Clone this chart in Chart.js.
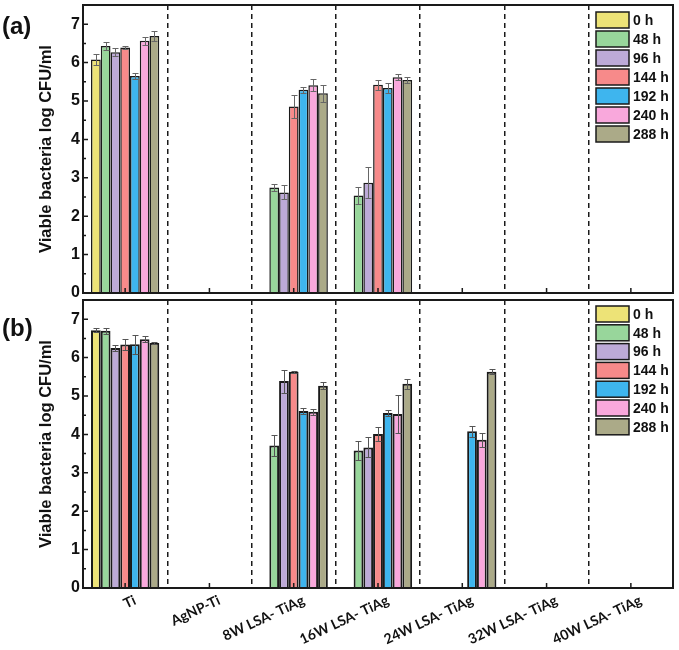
<!DOCTYPE html>
<html><head><meta charset="utf-8">
<script src="https://cdn.jsdelivr.net/npm/chart.js@4.4.0/dist/chart.umd.min.js"></script>
<style>
html,body{margin:0;padding:0;background:#fff;}
#wrap{position:relative;width:679px;height:650px;background:#fff;}
#ca{position:absolute;left:0;top:0;}
#cb{position:absolute;left:0;top:296px;}
</style></head><body>
<div id="wrap"><canvas id="ca" width="679" height="298"></canvas><canvas id="cb" width="679" height="354"></canvas></div>
<script>
const categories = ['Ti','AgNP-Ti','8W LSA- TiAg','16W LSA- TiAg','24W LSA- TiAg','32W LSA- TiAg','40W LSA- TiAg'];
const seriesLabels = ['0 h','48 h','96 h','144 h','192 h','240 h','288 h'];
const seriesColors = ['#EDE377','#98D69B','#BDAAD7','#F78A8A','#3EB5EE','#F9A8DC','#ABAA88'];
const yTicks = [0,1,2,3,4,5,6,7];

// Panel (a) values and errors
const a0h   = [6.08, null, null, null, null, null, null];
const a48h  = [6.43, null, 2.75, 2.54, null, null, null];
const a96h  = [6.27, null, 2.62, 2.87, null, null, null];
const a144h = [6.39, null, 4.86, 5.42, null, null, null];
const a192h = [5.65, null, 5.29, 5.34, null, null, null];
const a240h = [6.57, null, 5.41, 5.62, null, null, null];
const a288h = [6.69, null, 5.20, 5.55, null, null, null];
const a0hErr   = [0.15, null, null, null, null, null, null];
const a48hErr  = [0.10, null, 0.10, 0.22, null, null, null];
const a96hErr  = [0.10, null, 0.18, 0.40, null, null, null];
const a144hErr = [0.03, null, 0.30, 0.13, null, null, null];
const a192hErr = [0.07, null, 0.08, 0.13, null, null, null];
const a240hErr = [0.10, null, 0.15, 0.08, null, null, null];
const a288hErr = [0.12, null, 0.22, 0.08, null, null, null];

// Panel (b) values and errors
const b0h   = [6.71, null, null, null, null, null, null];
const b48h  = [6.70, null, 3.71, 3.58, null, null, null];
const b96h  = [6.25, null, 5.39, 3.66, null, null, null];
const b144h = [6.34, null, 5.63, 4.01, null, null, null];
const b192h = [6.35, null, 4.61, 4.56, 4.08, null, null];
const b240h = [6.48, null, 4.59, 4.53, 3.86, null, null];
const b288h = [6.38, null, 5.27, 5.32, 5.63, null, null];
const b0hErr   = [0.05, null, null, null, null, null, null];
const b48hErr  = [0.08, null, 0.28, 0.25, null, null, null];
const b96hErr  = [0.08, null, 0.30, 0.26, null, null, null];
const b144hErr = [0.14, null, 0.03, 0.18, null, null, null];
const b192hErr = [0.25, null, 0.08, 0.08, 0.14, null, null];
const b240hErr = [0.07, null, 0.08, 0.50, 0.18, null, null];
const b288hErr = [0.03, null, 0.10, 0.13, 0.07, null, null];

const aVals = [a0h,a48h,a96h,a144h,a192h,a240h,a288h];
const aErrs = [a0hErr,a48hErr,a96hErr,a144hErr,a192hErr,a240hErr,a288hErr];
const bVals = [b0h,b48h,b96h,b144h,b192h,b240h,b288h];
const bErrs = [b0hErr,b48hErr,b96hErr,b144hErr,b192hErr,b240hErr,b288hErr];

const INK = '#1a1a1a';

const decor = {
  id: 'decor',
  afterDatasetsDraw(chart, args, o) {
    const ctx = chart.ctx;
    const {left, right, top, bottom} = chart.chartArea;
    const ys = chart.scales.y, xs = chart.scales.x;
    ctx.save();
    // error bars
    chart.data.datasets.forEach((ds, i) => {
      const meta = chart.getDatasetMeta(i);
      meta.data.forEach((bar, j) => {
        const v = ds.data[j], e = ds.errors[j];
        if (v == null || e == null) return;
        const yt = Math.round(ys.getPixelForValue(v + e)) + 0.5;
        const yb = Math.round(ys.getPixelForValue(v - e)) + 0.5;
        const x = Math.round(bar.x) + 0.5;
        ctx.strokeStyle = o.errColor; ctx.lineWidth = 1;
        ctx.beginPath();
        ctx.moveTo(x, yt); ctx.lineTo(x, yb);
        ctx.moveTo(x - 3, yt); ctx.lineTo(x + 3, yt);
        ctx.moveTo(x - 3, yb); ctx.lineTo(x + 3, yb);
        ctx.stroke();
      });
    });
    // inward ticks
    ctx.strokeStyle = INK; ctx.lineWidth = 1.5;
    ctx.beginPath();
    for (let v = 0; v <= 7; v++) {
      const y = ys.getPixelForValue(v);
      ctx.moveTo(left, y); ctx.lineTo(left + 5, y);
      const ym = ys.getPixelForValue(v + 0.5);
      ctx.moveTo(left, ym); ctx.lineTo(left + 3, ym);
    }
    xs.ticks.forEach((t, k) => {
      const x = xs.getPixelForTick(k);
      ctx.moveTo(x, bottom); ctx.lineTo(x, bottom - 5);
    });
    ctx.stroke();
    // frame
    ctx.lineWidth = 2; ctx.strokeStyle = INK;
    ctx.strokeRect(left, top, right - left, bottom - top);
    // legend
    const lx = 596, bw = 33, bh = 16;
    chart.data.datasets.forEach((ds, i) => {
      const by = top + o.legendTop + i * o.legendPitch;
      ctx.fillStyle = ds.backgroundColor;
      ctx.fillRect(lx, by, bw, bh);
      ctx.lineWidth = 1.5; ctx.strokeStyle = INK;
      ctx.strokeRect(lx, by, bw, bh);
      ctx.fillStyle = '#111';
      ctx.font = 'bold 14px "Liberation Sans", Arial, sans-serif';
      ctx.textAlign = 'left'; ctx.textBaseline = 'middle';
      ctx.fillText(ds.label, lx + bw + 4, by + bh / 2 + 1);
    });
    // panel label
    ctx.fillStyle = '#111';
    ctx.font = 'bold 24px "Liberation Sans", Arial, sans-serif';
    ctx.textAlign = 'left'; ctx.textBaseline = 'middle';
    ctx.fillText(o.panel, 2, o.panelY);
    ctx.restore();
  }
};

function makeChart(id, vals, errs, isBottom, opts) {
  const datasets = seriesLabels.map((lab, i) => ({
    label: lab,
    data: vals[i],
    errors: errs[i],
    backgroundColor: seriesColors[i],
    borderColor: INK,
    borderWidth: opts.barBorder,
    categoryPercentage: 0.81,
    barPercentage: 1.0
  }));
  return new Chart(document.getElementById(id), {
    type: 'bar',
    data: {labels: categories, datasets},
    plugins: [decor],
    options: {
      responsive: false,
      devicePixelRatio: 1,
      animation: false,
      layout: {padding: {top: opts.padTop, right: 6, left: 0, bottom: 0}},
      plugins: {
        legend: {display: false},
        tooltip: {enabled: false},
        decor: {errColor: opts.errColor, legendTop: opts.legendTop, legendPitch: opts.legendPitch, panel: opts.panel, panelY: opts.panelY}
      },
      scales: {
        x: {
          offset: true,
          grid: {display: true, drawOnChartArea: true, drawTicks: false, offset: true, color: INK, lineWidth: 1.5},
          border: {display: false, dash: [5, 4]},
          ticks: {
            display: isBottom,
            autoSkip: false,
            maxRotation: 25, minRotation: 25,
            padding: 4,
            labelOffset: 10,
            color: '#111',
            font: {family: 'Lato, "Open Sans", sans-serif', weight: 'bold', size: 14}
          },
          afterFit(s) { s.height = opts.xHeight; s.paddingLeft = 0; s.paddingRight = 0; s.paddingTop = 0; s.paddingBottom = 0; }
        },
        y: {
          min: 0, max: 7.5,
          grid: {display: false, drawTicks: false},
          border: {display: false},
          ticks: {
            stepSize: 1, includeBounds: false, padding: 3, color: '#111',
            font: {family: '"Liberation Sans", Arial, sans-serif', weight: 'bold', size: 16},
            callback: (v) => (yTicks.includes(v) ? String(v) : '')
          },
          title: {
            display: true,
            text: 'Viable bacteria log CFU/ml',
            color: '#111',
            font: {family: '"Liberation Sans", Arial, sans-serif', weight: 'bold', size: 16.5},
            padding: {top: 37, bottom: 0}
          },
          afterFit(s) { s.width = 83; s.paddingTop = 0; s.paddingBottom = 0; s.paddingLeft = 0; s.paddingRight = 0; }
        }
      }
    }
  });
}

makeChart('ca', aVals, aErrs, false, {padTop: 5, xHeight: 5, barBorder: 1.5, errColor: '#666', legendTop: 7, legendPitch: 19, panel: '(a)', panelY: 27});
makeChart('cb', bVals, bErrs, true, {padTop: 4, xHeight: 62, barBorder: 2, errColor: '#555', legendTop: 6, legendPitch: 18.8, panel: '(b)', panelY: 33});
</script>
</body></html>
